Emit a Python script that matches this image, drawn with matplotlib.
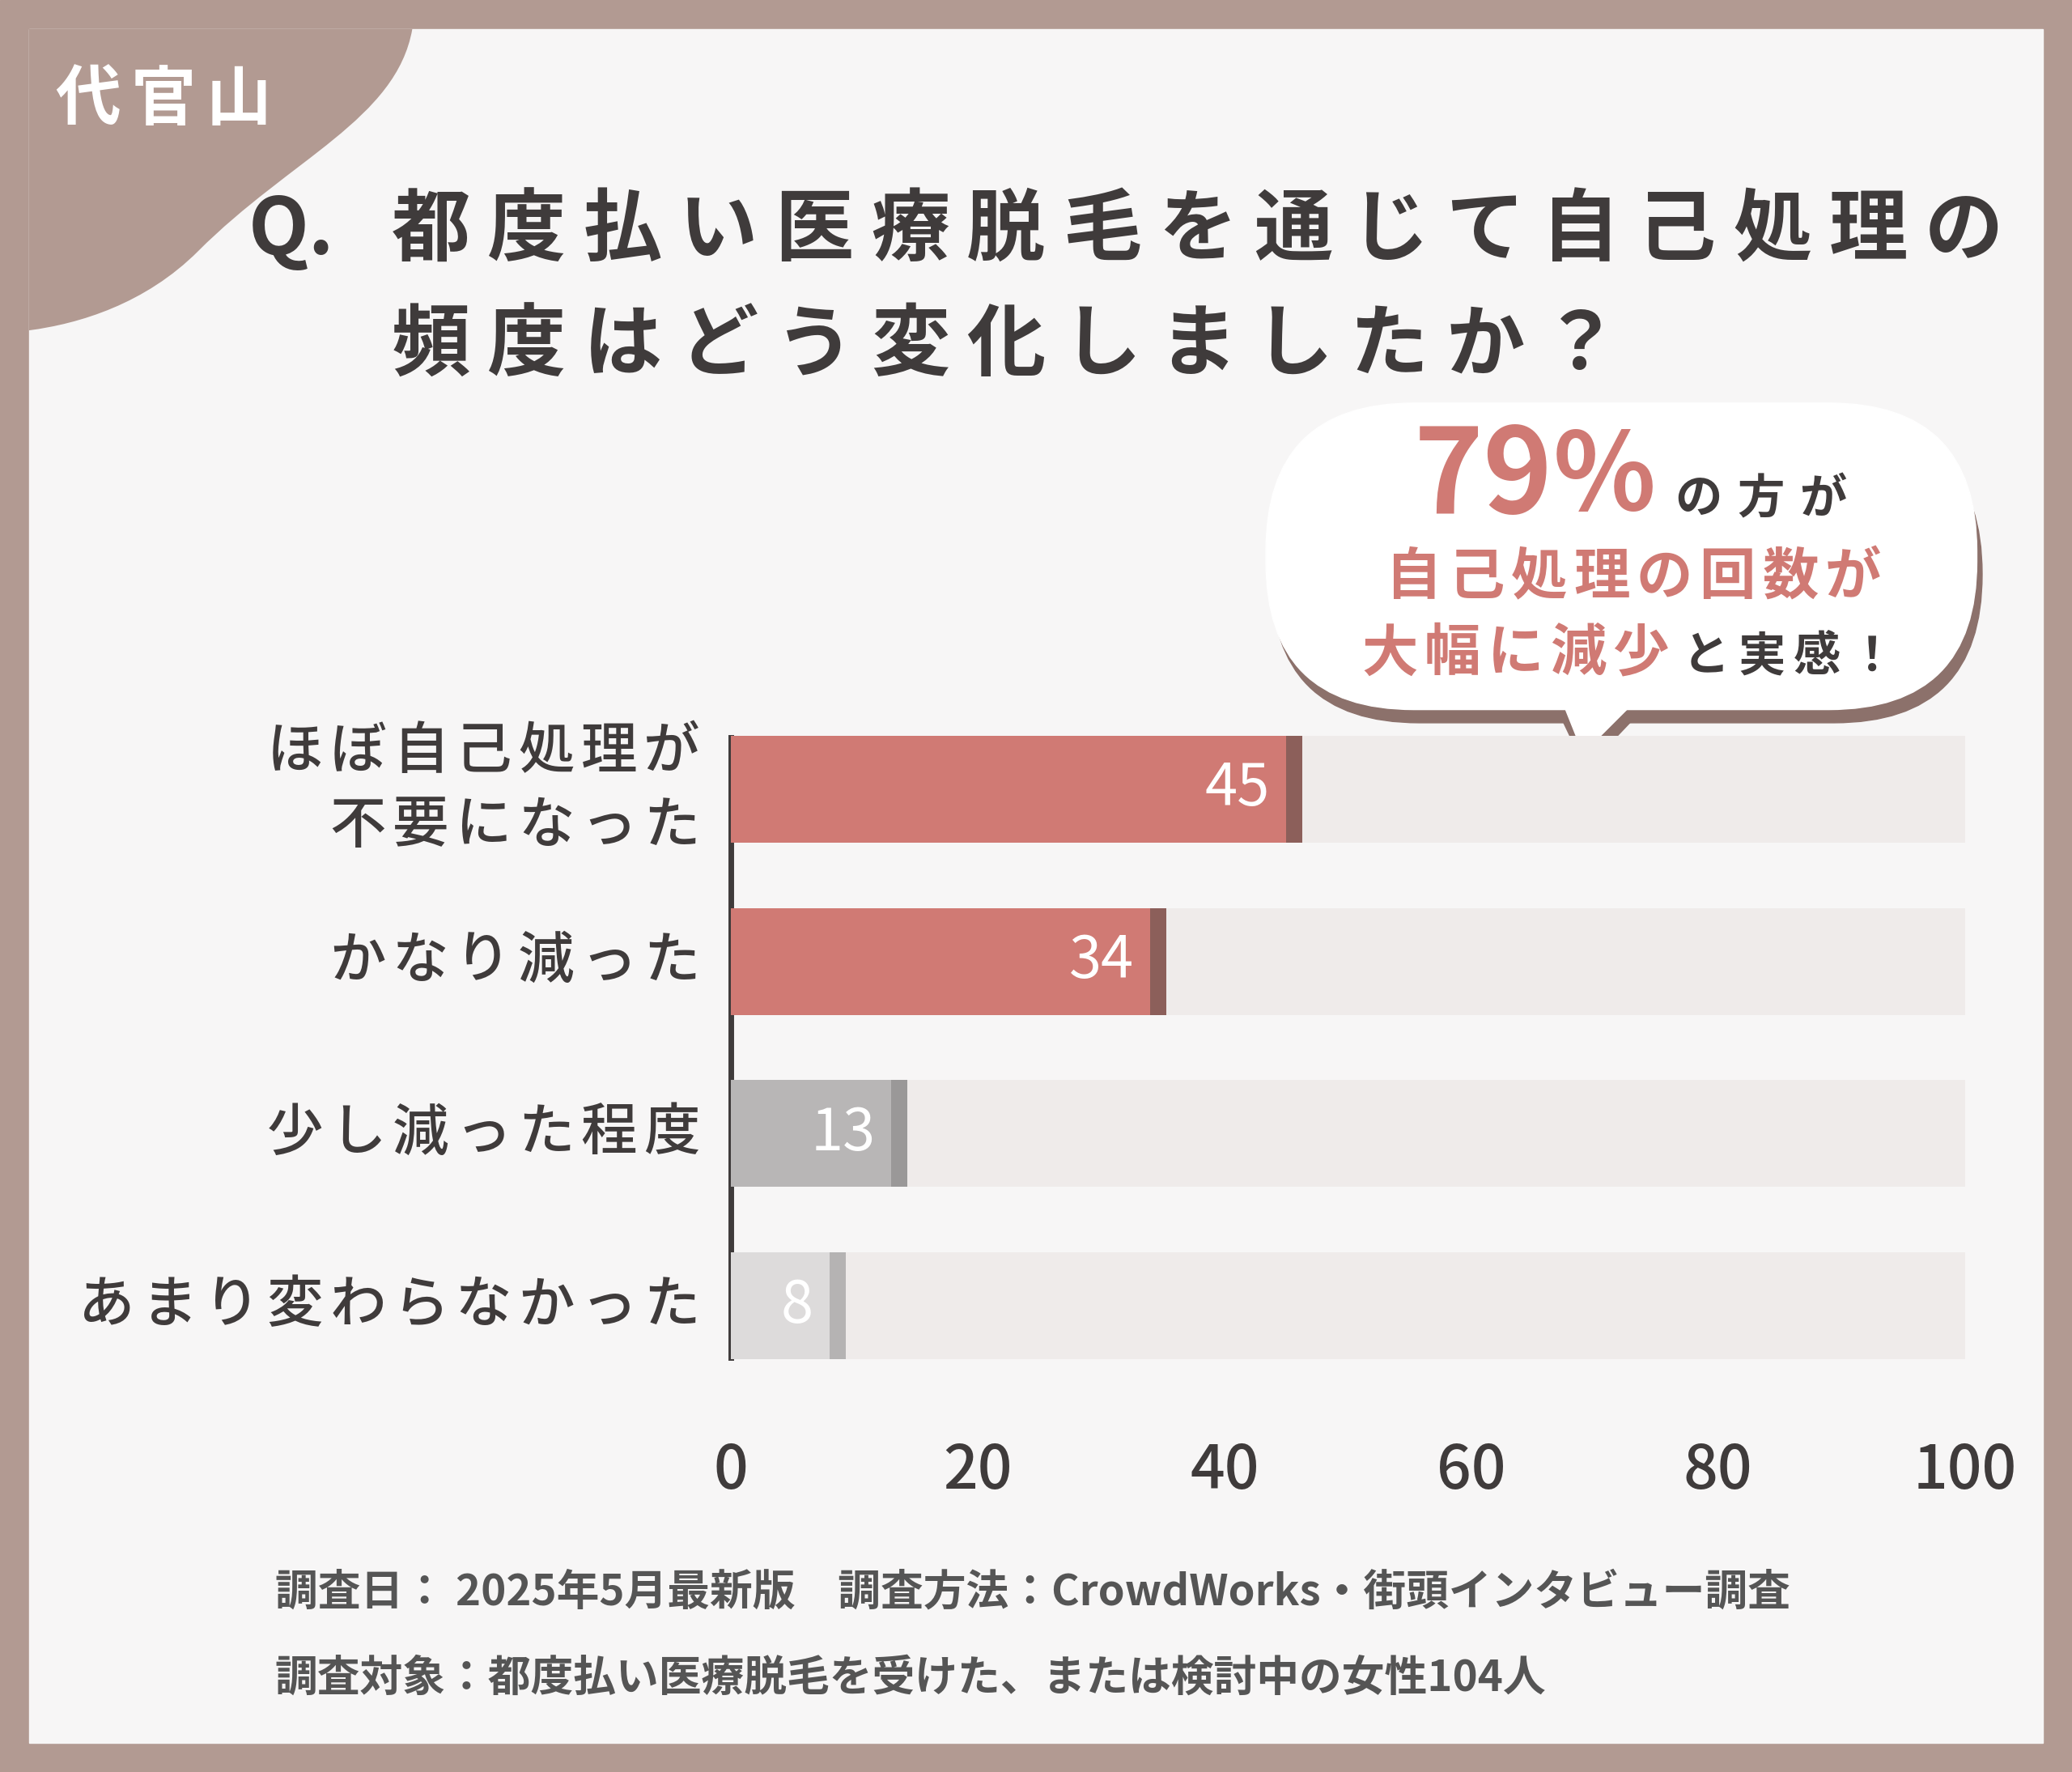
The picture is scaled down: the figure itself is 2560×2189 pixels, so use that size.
import matplotlib
matplotlib.use("Agg")
import matplotlib.pyplot as plt
from matplotlib.patches import Rectangle, FancyBboxPatch, PathPatch, Ellipse, Polygon
from matplotlib.path import Path

plt.rcParams["font.family"] = "Noto Sans CJK JP"

CATEGORIES = [["ほぼ自己処理が", "不要になった"], ["かなり減った"], ["少し減った程度"], ["あまり変わらなかった"]]
VALUES = [45, 34, 13, 8]
BAR_COLORS = ["#d07a74", "#d07a74", "#b8b6b6", "#dddbdb"]
EDGE_COLORS = ["#8c5f5a", "#8c5f5a", "#9a9898", "#b5b3b3"]
X_TICKS = [0, 20, 40, 60, 80, 100]

W, H = 1568, 1341
fig = plt.figure(figsize=(25.6, 21.89), dpi=100)
bg = fig.add_axes([0, 0, 1, 1])
bg.set_xlim(0, W)
bg.set_ylim(H, 0)
bg.axis("off")

BROWN = "#b29a92"
DARK = "#3f3b3b"
RED = "#d07a74"


def spaced(x, y, s, size, step, color=DARK, align="left", weight="bold", z=4):
    # place characters one by one to mimic the wide letter spacing
    if align == "right":
        x = x - step * len(s)
    for i, ch in enumerate(s):
        bg.text(x + step * (i + 0.5), y, ch, fontsize=size, color=color, fontweight=weight,
                ha="center", va="center", zorder=z)


bg.add_patch(Rectangle((0, 0), W, H, color=BROWN))
bg.add_patch(Rectangle((22, 22), W - 44, H - 44, color="#f7f6f6"))
verts = [(22, 22), (312, 22), (312, 22), (300, 90), (220, 120), (150, 190),
         (110, 230), (60, 245), (22, 250), (22, 22)]
codes = [Path.MOVETO, Path.LINETO, Path.LINETO, Path.CURVE4, Path.CURVE4, Path.CURVE4,
         Path.CURVE4, Path.CURVE4, Path.CURVE4, Path.CLOSEPOLY]
bg.add_patch(PathPatch(Path(verts, codes), color=BROWN, lw=0))
spaced(38, 76, "代官山", 58, 57, color="white")

bg.text(188, 175, "Q.", fontsize=70, color=DARK, fontweight="bold", va="center")
spaced(290, 175, "都度払い医療脱毛を通じて自己処理の", 70, 72.5)
spaced(290, 262, "頻度はどう変化しましたか？", 70, 72.5)

# speech bubble
SH = "#8c716b"
bg.add_patch(FancyBboxPatch((962, 322), 538, 225, boxstyle="round,pad=0,rounding_size=112",
                            color=SH, zorder=2))
bg.add_patch(FancyBboxPatch((958, 305), 538, 232, boxstyle="round,pad=0,rounding_size=112",
                            color="white", zorder=3))
bg.add_patch(Polygon([(1180, 540), (1240, 540), (1200, 582)], color=SH, zorder=2))
bg.add_patch(Polygon([(1182, 530), (1238, 530), (1198, 570)], color="white", zorder=3))
bg.add_patch(Ellipse((1145, 600), 30, 26, color="white", ec="#aaa", lw=1, zorder=3))
bg.add_patch(Ellipse((1113, 624), 13, 11, color="white", zorder=3))
bg.text(1070, 362, "79", fontsize=105, color=RED, fontweight="bold", va="center", zorder=4)
bg.text(1175, 362, "%", fontsize=95, color=RED, fontweight="bold", va="center", zorder=4)
spaced(1262, 378, "の方が", 42, 47)
spaced(1046, 437, "自己処理の回数が", 50, 47.5, color=RED)
spaced(1028, 495, "大幅に減少", 50, 47.5, color=RED)
spaced(1270, 497, "と実感！", 42, 42)

bg.text(208, 1205, "調査日： 2025年5月最新版　調査方法：CrowdWorks・街頭インタビュー調査",
        fontsize=38, color="#555", fontweight="bold", va="center")
bg.text(208, 1270, "調査対象：都度払い医療脱毛を受けた、または検討中の女性104人",
        fontsize=38, color="#555", fontweight="bold", va="center")

# bar chart
x0, x1, yt, yb = 553, 1487, 532, 1060
ax = fig.add_axes([x0 / W, 1 - yb / H, (x1 - x0) / W, (yb - yt) / H])
ax.set_xlim(0, 100)
ax.set_ylim(3.55, -0.5)
ax.patch.set_alpha(0)
for s in ["top", "right", "bottom"]:
    ax.spines[s].set_visible(False)
ax.spines["left"].set_linewidth(5)
ax.spines["left"].set_color(DARK)
ax.spines["left"].set_bounds(-0.3, 3.3)

ys = list(range(len(VALUES)))
ax.barh(ys, [100] * len(ys), height=0.62, color="#efebea", zorder=1)
ax.barh(ys, [v + 1.3 for v in VALUES], height=0.62, color=EDGE_COLORS, zorder=2)
ax.barh(ys, VALUES, height=0.62, color=BAR_COLORS, zorder=3)
for y, v in zip(ys, VALUES):
    ax.text(v - 1.3, y, str(v), fontsize=52, color="white", ha="right", va="center", zorder=4)

ax.set_yticks([])
ax.set_xticks(X_TICKS)
ax.set_xticklabels([str(t) for t in X_TICKS], fontsize=54, color=DARK, fontweight="medium")
ax.tick_params(length=0, pad=36, axis="x")

# category labels, placed via the bar axes' transform
for y, lines in zip(ys, CATEGORIES):
    n = len(lines)
    for k, line in enumerate(lines):
        disp = ax.transData.transform((0, y))
        py = H - disp[1] / fig.dpi / 21.89 * H + (k - (n - 1) / 2) * 56
        spaced(532, py, line, 50, 47.5, align="right", weight="medium")

fig.savefig("out.png", dpi=100)
